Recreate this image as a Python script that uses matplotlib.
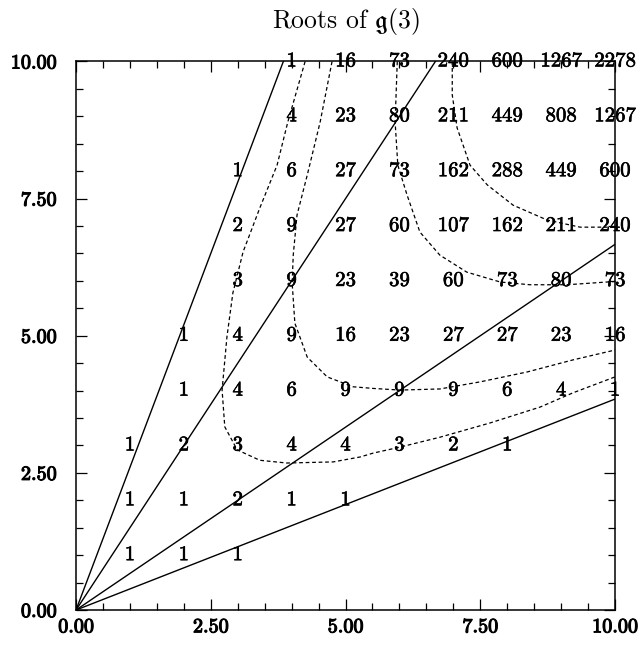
import numpy as np
import matplotlib
matplotlib.use("Agg")
import matplotlib.pyplot as plt
import matplotlib.patheffects as pe
from matplotlib.ticker import MultipleLocator, FormatStrFormatter

plt.rcParams['font.family'] = ['cmr10', 'DejaVu Serif']
plt.rcParams['mathtext.fontset'] = 'cm'
plt.rcParams['axes.unicode_minus'] = False

# multiplicities, one row per y value: (x, y, label)
row_y = [10, 9, 8, 7, 6, 5, 4, 3, 2, 1]
row_x = [
    [4, 5, 6, 7, 8, 9, 10],
    [4, 5, 6, 7, 8, 9, 10],
    [3, 4, 5, 6, 7, 8, 9, 10],
    [3, 4, 5, 6, 7, 8, 9, 10],
    [3, 4, 5, 6, 7, 8, 9, 10],
    [2, 3, 4, 5, 6, 7, 8, 9, 10],
    [2, 3, 4, 5, 6, 7, 8, 9, 10],
    [1, 2, 3, 4, 5, 6, 7, 8],
    [1, 2, 3, 4, 5],
    [1, 2, 3],
]
row_vals = [
    [1, 16, 73, 240, 600, 1267, 2278],
    [4, 23, 80, 211, 449, 808, 1267],
    [1, 6, 27, 73, 162, 288, 449, 600],
    [2, 9, 27, 60, 107, 162, 211, 240],
    [3, 9, 23, 39, 60, 73, 80, 73],
    [1, 4, 9, 16, 23, 27, 27, 23, 16],
    [1, 4, 6, 9, 9, 9, 6, 4, 1],
    [1, 2, 3, 4, 4, 3, 2, 1],
    [1, 1, 2, 1, 1],
    [1, 1, 1],
]

# slopes of the rays through the origin
slopes = [0.3846, 0.6667, 1.5, 2.6]

# dotted curves
c1_x = [4.25, 3.93, 3.73, 3.41, 3.10, 2.91, 2.80, 2.71, 2.76, 2.99, 3.41, 3.91,
        4.77, 5.27, 5.51, 6.01, 6.75, 7.68, 8.61, 9.22, 10.0]
c1_y = [10.0, 8.90, 8.11, 7.33, 6.53, 5.78, 4.98, 4.01, 3.34, 2.92, 2.73, 2.68,
        2.70, 2.79, 2.86, 2.97, 3.15, 3.41, 3.70, 3.96, 4.25]
c2_x = [4.75, 4.53, 4.29, 4.10, 4.03, 4.01, 4.06, 4.29, 4.66, 5.14, 5.51, 6.01,
        6.75, 7.50, 8.37, 9.22, 10.0]
c2_y = [10.0, 8.90, 7.93, 7.20, 6.47, 5.96, 5.23, 4.61, 4.25, 4.07, 4.04, 4.01,
        4.03, 4.16, 4.34, 4.56, 4.74]
c3_x = [5.96, 5.92, 5.97, 6.14, 6.38, 6.75, 7.25, 7.87, 8.42, 9.11, 10.0]
c3_y = [10.0, 8.90, 8.11, 7.57, 6.89, 6.47, 6.16, 5.98, 5.93, 5.93, 5.99]
c4_x = [6.98, 6.98, 7.07, 7.31, 7.63, 8.11, 8.74, 9.35, 10.0]
c4_y = [10.0, 9.39, 8.79, 8.11, 7.75, 7.38, 7.11, 6.98, 6.98]

thick = [pe.withStroke(linewidth=0.45, foreground='black')]
thicker = [pe.withStroke(linewidth=0.8, foreground='black')]

fig = plt.figure(figsize=(6.42, 6.48), dpi=100)
ax = fig.add_axes([0.1184, 0.0586, 0.8396, 0.8465])

xs = np.array([0.0, 10.0])
for s in slopes:
    ax.plot(xs, s * xs, color='black', lw=1.0)

for cx, cy in [(c1_x, c1_y), (c2_x, c2_y), (c3_x, c3_y), (c4_x, c4_y)]:
    ax.plot(cx, cy, color='black', lw=0.9, linestyle=(0, (3, 2.2)))

for y, xrow, vrow in zip(row_y, row_x, row_vals):
    for x, v in zip(xrow, vrow):
        ax.text(x, y, str(v), ha='center', va='center', fontsize=15,
                color='black', path_effects=thick)

ax.set_xlim(0, 10)
ax.set_ylim(0, 10)
ax.xaxis.set_major_locator(MultipleLocator(2.5))
ax.yaxis.set_major_locator(MultipleLocator(2.5))
ax.xaxis.set_minor_locator(MultipleLocator(0.5))
ax.yaxis.set_minor_locator(MultipleLocator(0.5))
ax.xaxis.set_major_formatter(FormatStrFormatter('%.2f'))
ax.yaxis.set_major_formatter(FormatStrFormatter('%.2f'))
ax.tick_params(which='both', direction='in', top=True, right=True,
               width=0.9, labelsize=14.5)
ax.tick_params(axis='x', which='both', pad=6)
ax.tick_params(axis='y', which='both', pad=14)
ax.tick_params(which='major', length=8)
ax.tick_params(which='minor', length=5)
for lab in ax.get_xticklabels() + ax.get_yticklabels():
    lab.set_path_effects(thicker)
for sp in ax.spines.values():
    sp.set_linewidth(1.1)

ax.set_title(r'Roots of $\mathfrak{g}$(3)', fontsize=18.5, pad=24)

fig.savefig('out.png', dpi=100)
